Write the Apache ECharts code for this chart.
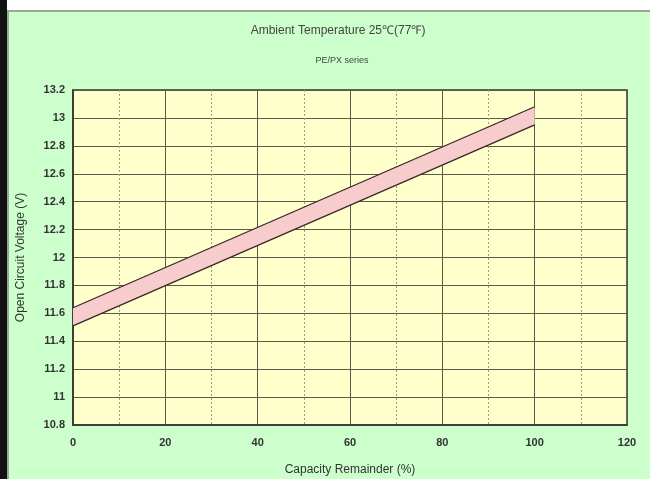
<!DOCTYPE html>
<html><head><meta charset="utf-8">
<script src="https://cdn.jsdelivr.net/npm/echarts@6/dist/echarts.min.js"></script>
<style>html,body{margin:0;padding:0;background:#fff}#c{width:650px;height:479px}</style>
</head><body><div id="c"></div>
<script>
const capacity = [0, 100];
const upperVoltage = [11.64, 13.08];
const lowerVoltage = [11.51, 12.95];
const xTicks = [0, 20, 40, 60, 80, 100, 120];
const yTicks = [10.8, 11, 11.2, 11.4, 11.6, 11.8, 12, 12.2, 12.4, 12.6, 12.8, 13, 13.2];

const font = '"Liberation Sans", Arial, sans-serif';
const chart = echarts.init(document.getElementById('c'), null, {renderer: 'canvas'});
const bandData = capacity.map((c, i) => [c, lowerVoltage[i], upperVoltage[i]]);

chart.setOption({
  backgroundColor: '#ffffff',
  animation: false,
  graphic: [
    {type: 'rect', z: -10, shape: {x: 0, y: 0, width: 7, height: 479}, style: {fill: '#111111'}},
    {type: 'rect', z: -10, shape: {x: 7, y: 10, width: 643, height: 469}, style: {fill: '#9aa89a'}},
    {type: 'rect', z: -10, shape: {x: 9, y: 12, width: 641, height: 467}, style: {fill: '#ccffcc'}},
    {type: 'text', z: 10, style: {x: 338, y: 31, text: 'Ambient Temperature 25℃(77℉)', align: 'center', verticalAlign: 'middle', fontFamily: font, fontSize: 12, fill: '#444'}},
    {type: 'text', z: 10, style: {x: 342, y: 61, text: 'PE/PX series', align: 'center', verticalAlign: 'middle', fontFamily: font, fontSize: 9, fill: '#444'}}
  ],
  grid: {left: 73, right: 23, top: 90, bottom: 54, containLabel: false, outerBoundsMode: 'none',
    show: true, backgroundColor: '#ffffcc', borderColor: '#333', borderWidth: 1.5, z: 0},
  xAxis: {
    type: 'value', min: xTicks[0], max: xTicks[xTicks.length - 1], interval: 20,
    name: 'Capacity Remainder (%)', nameLocation: 'middle', nameGap: 39,
    nameTextStyle: {fontFamily: font, fontSize: 12, color: '#333'},
    axisLine: {show: true, lineStyle: {color: '#333', width: 1.5}},
    axisTick: {show: false},
    axisLabel: {fontFamily: font, fontSize: 11, fontWeight: 'bold', color: '#333', margin: 12},
    splitLine: {show: true, lineStyle: {color: '#5a5a48', width: 1}},
    minorTick: {show: false, splitNumber: 2},
    minorSplitLine: {show: true, lineStyle: {color: '#9a9a8a', width: 1, type: [2, 2]}}
  },
  yAxis: {
    type: 'value', min: yTicks[0], max: yTicks[yTicks.length - 1], interval: 0.2,
    name: 'Open Circuit Voltage (V)', nameLocation: 'middle', nameGap: 46,
    nameTextStyle: {fontFamily: font, fontSize: 12, color: '#333'},
    axisLine: {show: true, lineStyle: {color: '#333', width: 1.5}},
    axisTick: {show: false},
    axisLabel: {fontFamily: font, fontSize: 11, fontWeight: 'bold', color: '#333', margin: 8,
      formatter: v => String(Math.round(v * 10) / 10)},
    splitLine: {show: true, lineStyle: {color: '#5a5a48', width: 1}}
  },
  series: [
    {
      type: 'custom', z: 3,
      data: bandData,
      renderItem: function (params, api) {
        if (params.dataIndex !== 0) return;
        const pts = [];
        bandData.forEach(d => pts.push(api.coord([d[0], d[2]])));
        bandData.slice().reverse().forEach(d => pts.push(api.coord([d[0], d[1]])));
        return {type: 'polygon', shape: {points: pts}, style: {fill: '#f6cccc', stroke: null}};
      },
      silent: true
    },
    {type: 'line', z: 4, data: capacity.map((c, i) => [c, upperVoltage[i]]), symbol: 'none', lineStyle: {color: '#3a2626', width: 1.3}, silent: true},
    {type: 'line', z: 4, data: capacity.map((c, i) => [c, lowerVoltage[i]]), symbol: 'none', lineStyle: {color: '#3a2626', width: 1.3}, silent: true}
  ]
});
</script></body></html>
